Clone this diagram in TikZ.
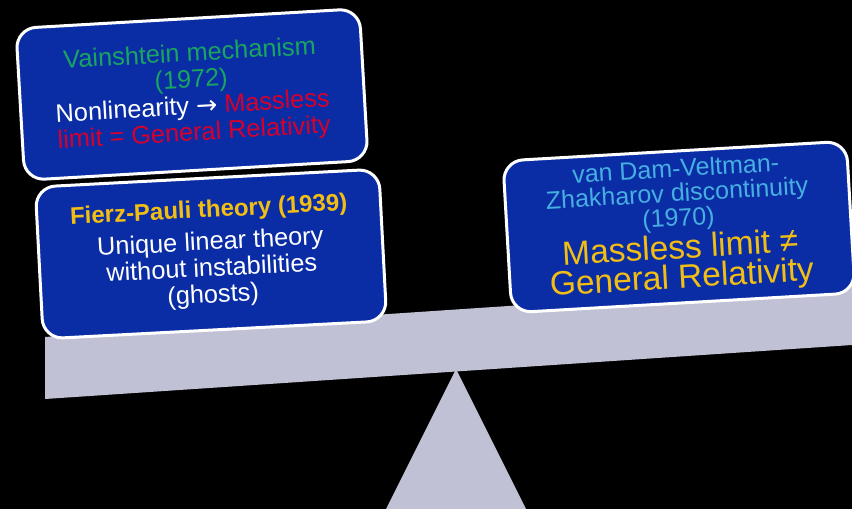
\documentclass[tikz,border=0pt]{standalone}
\usepackage{fontspec}
\setmainfont{Liberation Sans}
\newfontfamily\arrowfont{DejaVu Sans}
\definecolor{boxblue}{RGB}{10,45,165}
\definecolor{beamgrey}{RGB}{192,193,212}
\definecolor{vgreen}{RGB}{25,165,95}
\definecolor{vred}{RGB}{215,0,45}
\definecolor{vgold}{RGB}{242,190,20}
\definecolor{vcyan}{RGB}{70,175,225}
\tikzset{
  panel/.style={rectangle, rounded corners=20pt, draw=white, line width=3pt,
    fill=boxblue, minimum width=344pt, minimum height=152pt, align=center,
    inner sep=2pt, text=white, font=\fontsize{25.3}{26.5}\selectfont},
  prop/.style={fill=beamgrey, draw=none}
}
\begin{document}
\begin{tikzpicture}[x=1pt,y=1pt]
\fill[black] (0,0) rectangle (852,509);
\useasboundingbox (0,0) rectangle (852,509);
% fulcrum
\fill[prop] (456,140) -- (386,0) -- (526,0) -- cycle;
% beam
\fill[prop] (45,172) -- (45,110) -- (852,164) -- (852,226) -- cycle;
% panels
\node[panel, rotate=3.3] (vain) at (192,414.5)
  {{\color{vgreen}Vainshtein mechanism}\\
   {\color{vgreen}(1972)}\\
   Nonlinearity {\arrowfont →} {\color{vred}Massless}\\
   {\color{vred}limit = General Relativity}};
\node[panel, rotate=3] (fp) at (211,255)
  {{\color{vgold}\fontsize{24}{26}\selectfont\bfseries Fierz-Pauli theory (1939)}\\[6pt]
   Unique linear theory\\
   without instabilities\\
   (ghosts)};
\node[panel, rotate=3.3, font=\fontsize{25}{24.5}\selectfont] (vdvz) at (679,282)
  {{\color{vcyan}van Dam-Veltman-}\\
   {\color{vcyan}Zhakharov discontinuity}\\
   {\color{vcyan}(1970)}\\[2pt]
   {\color{vgold}\fontsize{33.5}{32}\selectfont Massless limit ≠}\\[4pt]
   {\color{vgold}\fontsize{33.5}{32}\selectfont General Relativity}};
\end{tikzpicture}
\end{document}
